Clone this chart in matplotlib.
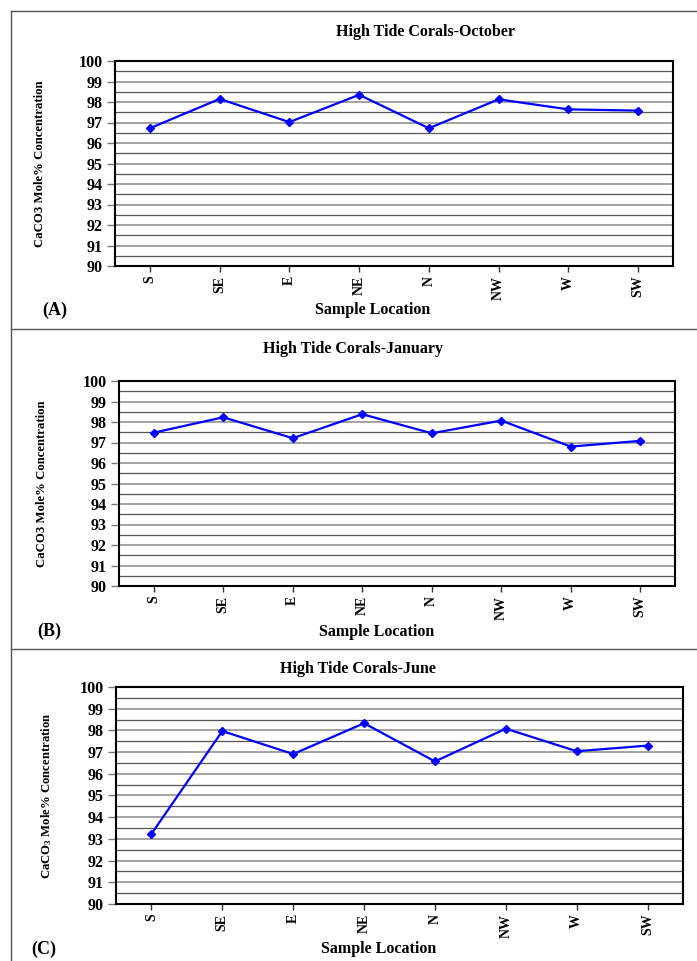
import matplotlib
matplotlib.use("Agg")
import matplotlib.pyplot as plt
from matplotlib.lines import Line2D

plt.rcParams['font.family'] = ['Liberation Serif', 'DejaVu Serif']
plt.rcParams['font.weight'] = 'bold'
plt.rcParams['mathtext.fontset'] = 'custom'
plt.rcParams['mathtext.rm'] = 'Liberation Serif:bold'
plt.rcParams['mathtext.it'] = 'Liberation Serif:bold'
plt.rcParams['mathtext.bf'] = 'Liberation Serif:bold'

locations = ["S", "SE", "E", "NE", "N", "NW", "W", "SW"]
october = [96.72, 98.15, 97.02, 98.35, 96.72, 98.13, 97.64, 97.58]
january = [97.48, 98.23, 97.21, 98.38, 97.45, 98.07, 96.80, 97.08]
june = [93.23, 97.97, 96.91, 98.33, 96.57, 98.08, 97.04, 97.30]

titles = ["High Tide Corals-October", "High Tide Corals-January", "High Tide Corals-June"]
ylabels = ["CaCO3 Mole% Concentration", "CaCO3 Mole% Concentration", "CaCO$_3$ Mole% Concentration"]
panel_tags = ["(A)", "(B)", "(C)"]
yticks = list(range(90, 101))

W, H = 697, 961
fig = plt.figure(figsize=(W / 100, H / 100), dpi=100)

def fx(x):
    return x / W

def fy(y):
    return 1 - y / H

layouts = [
    dict(ax=(115, 673, 61, 266), title=(426, 32), ylab=40, tag=(55, 310), xlab=(373, 310)),
    dict(ax=(119, 675, 381, 586), title=(353, 349), ylab=42, tag=(49, 631), xlab=(377, 632)),
    dict(ax=(116, 683, 687, 904), title=(358, 669), ylab=47, tag=(44, 949), xlab=(379, 949)),
]
series = [october, january, june]

for lay, vals, title, ylab, tag in zip(layouts, series, titles, ylabels, panel_tags):
    l, r, t, b = lay['ax']
    ax = fig.add_axes([fx(l), fy(b), (r - l) / W, (b - t) / H])
    x = list(range(len(locations)))
    ax.plot(x, vals, color='#0000ff', lw=1.6, marker='D', ms=4.5, zorder=3)
    ax.set_xlim(-0.5, len(locations) - 0.5)
    ax.set_ylim(90, 100)
    ax.set_yticks(yticks)
    ax.set_yticks([v + 0.5 for v in yticks[:-1]], minor=True)
    ax.grid(True, which='major', axis='y', color='#8a8a8a', lw=1.1)
    ax.grid(True, which='minor', axis='y', color='#555555', lw=0.9)
    ax.tick_params(axis='y', which='minor', length=0)
    ax.set_xticks(x)
    ax.set_xticklabels(locations, rotation=90, fontsize=10, fontweight='bold')
    ax.set_yticklabels([str(v) for v in yticks], fontsize=11.5, fontweight='bold')
    ax.tick_params(axis='y', which='major', direction='out', length=6, width=1, color='#777777', pad=3)
    ax.tick_params(axis='x', which='major', direction='out', length=4, width=1, color='#333333', pad=3)
    for s in ax.spines.values():
        s.set_color('black')
        s.set_linewidth(1.5)
    fig.text(fx(lay['title'][0]), fy(lay['title'][1]), title, ha='center', va='center',
             fontsize=11.5, fontweight='bold')
    fig.text(fx(lay['ylab']), fy((t + b) / 2), ylab, rotation=90, ha='center', va='center',
             fontsize=9.2, fontweight='bold')
    fig.text(fx(lay['tag'][0]), fy(lay['tag'][1]), tag, ha='center', va='center',
             fontsize=13, fontweight='bold')
    fig.text(fx(lay['xlab'][0]), fy(lay['xlab'][1]), "Sample Location", ha='center', va='center',
             fontsize=11.5, fontweight='bold')

border = '#555555'
fig.add_artist(Line2D([fx(10.5), fx(10.5)], [fy(11), fy(961)], color=border, lw=1, transform=fig.transFigure))
for yy in (11, 329, 649):
    fig.add_artist(Line2D([fx(10.5), 1], [fy(yy), fy(yy)], color=border, lw=1, transform=fig.transFigure))

fig.savefig("out.png", dpi=100)
